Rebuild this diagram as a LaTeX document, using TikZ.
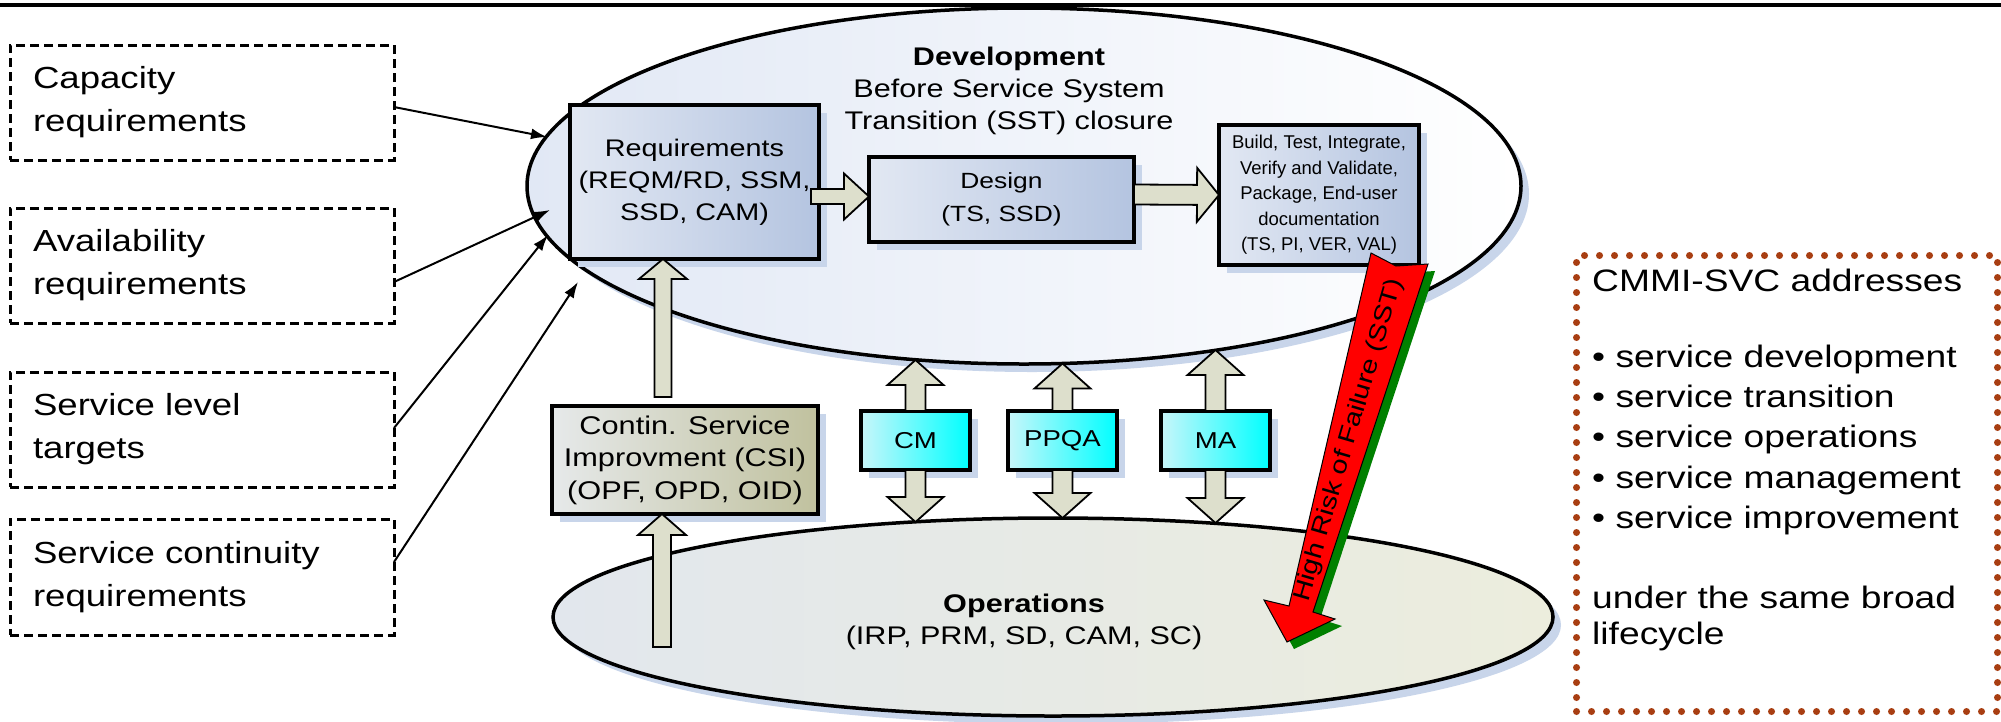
\documentclass[tikz,border=0pt]{standalone}
\usepackage{fontspec}
\setmainfont{Liberation Sans}[FakeStretch=1.2]
\newfontfamily\plainfont{Liberation Sans}
\usetikzlibrary{calc,arrows.meta,shadows,shapes.geometric}

\definecolor{blockfill}{RGB}{221,223,204}
\definecolor{shadowblue}{RGB}{200,213,234}
\definecolor{boxlight}{RGB}{226,232,243}
\definecolor{boxdark}{RGB}{180,196,224}
\definecolor{cyanlight}{RGB}{200,246,250}
\definecolor{cyanfull}{RGB}{0,255,255}
\definecolor{csilight}{RGB}{230,233,234}
\definecolor{csidark}{RGB}{192,193,158}
\definecolor{devleft}{RGB}{225,232,245}
\definecolor{opsleft}{RGB}{226,231,237}
\definecolor{opsright}{RGB}{236,237,221}
\definecolor{dotbrown}{RGB}{168,62,18}
\definecolor{riskred}{RGB}{255,0,0}
\definecolor{riskgreen}{RGB}{0,128,0}

% block arrow: #1 tail, #2 tip, #3 shaft half width, #4 head half width, #5 head length
\newcommand\blockarrow[5]{%
  \path let \p1=(#1), \p2=(#2),
    \n1={atan2((\y2)-(\y1),(\x2)-(\x1))},
    \n2={veclen((\x2)-(\x1),(\y2)-(\y1))} in
    \pgfextra{\xdef\BAang{\n1}\xdef\BAlen{\n2}\xdef\BAx{\x1}\xdef\BAy{\y1}};
  \begin{scope}[shift={(\BAx,\BAy)}, rotate=\BAang, x=1pt, y=1pt]
    \draw[blockarr] (0,#3) -- ({\BAlen-#5},#3) -- ({\BAlen-#5},#4) -- (\BAlen,0)
      -- ({\BAlen-#5},-#4) -- ({\BAlen-#5},-#3) -- (0,-#3) -- cycle;
  \end{scope}}

\tikzset{
  sidebox/.style={rectangle, draw=black, line width=3pt, dash pattern=on 9pt off 5pt,
    anchor=north west, minimum width=384pt, minimum height=115pt,
    inner xsep=23pt, inner ysep=0pt, outer sep=0pt, text width=338pt, align=left,
    font=\fontsize{30.5}{43}\selectfont},
  feed/.style={draw=black, line width=2pt, -{Latex[length=16pt,width=11pt]}},
  bshadow/.style={drop shadow={shadow xshift=8pt, shadow yshift=-8pt, fill=shadowblue, opacity=1}},
  procbox/.style={rectangle, draw=black, line width=3.5pt, anchor=north west, inner sep=0pt,
    outer sep=0pt, left color=boxlight, right color=boxdark, align=center, bshadow},
  supbox/.style={procbox, left color=cyanlight, right color=cyanfull,
    minimum width=109pt, minimum height=59pt, font=\fontsize{23}{28}\selectfont},
  csibox/.style={procbox, left color=csilight, right color=csidark, font=\fontsize{25.6}{32.5}\selectfont},
  phase/.style={ellipse, draw=black, line width=3.5pt, inner sep=0pt, outer sep=0pt, bshadow},
  phasetext/.style={font=\fontsize{25.5}{32}\selectfont, align=center, inner sep=0pt},
  blockarr/.style={draw=black, line width=1.8pt, fill=blockfill, line join=miter},
  cmmitext/.style={anchor=base west, inner sep=0pt, font=\fontsize{31}{31}\selectfont},
  riskshape/.style={fill=riskred, draw=black, line width=1pt, line join=miter},
}

\begin{document}
\begin{tikzpicture}[x=1pt, y=-1pt]
\useasboundingbox (0,0) rectangle (2001,721);
\fill[white] (0,0) rectangle (2001,721);

% phases
\node[phase, minimum width=994pt, minimum height=356pt, left color=devleft, right color=white] (dev) at (1024,186) {};
\node[phase, minimum width=1000pt, minimum height=198pt, left color=opsleft, right color=opsright] (ops) at (1053,617) {};
\node[phasetext] (devtext) at (1009,91) {\textbf{Development}\\Before Service System\\Transition (SST) closure};
\node[phasetext] (opstext) at (1024,622) {\textbf{Operations}\\(IRP, PRM, SD, CAM, SC)};

% process boxes
\node[procbox, minimum width=249pt, minimum height=154pt, font=\fontsize{24}{32}\selectfont] (req) at (570,105) {Requirements\\(REQM/RD, SSM,\\SSD, CAM)};
\node[procbox, minimum width=265pt, minimum height=85pt, font=\fontsize{22}{33}\selectfont] (design) at (869,157) {Design\\(TS, SSD)};
\node[procbox, minimum width=200pt, minimum height=140pt, font=\plainfont\fontsize{18.5}{25.5}\selectfont] (build) at (1219,125) {Build, Test, Integrate,\\Verify and Validate,\\Package, End-user\\documentation\\(TS, PI, VER, VAL)};
\node[csibox, minimum width=266pt, minimum height=108pt] (csi) at (552,406) {Contin. Service\\Improvment (CSI)\\(OPF, OPD, OID)};
\node[supbox] (cm) at (861,411) {CM};
\node[supbox] (ppqa) at (1008,411) {PPQA};
\node[supbox] (ma) at (1161,411) {MA};

% side boxes
\node[sidebox] (cap) at (10,45) {Capacity\\requirements};
\node[sidebox] (avail) at (10,208) {Availability\\requirements};
\node[sidebox] (slt) at (10,372) {Service level\\targets};
\node[sidebox, minimum height=116pt] (cont) at (10,519) {Service continuity\\requirements};

% feed arrows
\coordinate (t1) at (547,137);
\coordinate (t2) at (550,210);
\coordinate (t3) at (548,235);
\coordinate (t4) at (578,282);
\draw[feed] ($(cap.east)+(0,4.5)$) -- (t1);
\draw[feed] ($(avail.east)+(0,16.5)$) -- (t2);
\draw[feed] ($(slt.east)+(0,-1.5)$) -- (t3);
\draw[feed] ($(cont.east)+(0,-15)$) -- (t4);

% block arrows
\blockarrow{$(design.west)+(-58,-3)$}{$(design.west)+(0,-3)$}{7.5}{23}{25}
\blockarrow{$(design.east)+(0,-5)$}{$(build.west)$}{10}{27}{22}
\blockarrow{$(csi.north west)+(111,-9)$}{$(req.south west)+(93,0)$}{8.5}{24}{20}
\blockarrow{$(ops.center)+(-391,30)$}{$(csi.south west)+(110,0)$}{9}{24}{21}
\blockarrow{$(cm.north west)+(54.5,0)$}{$(cm.north west)+(54.5,-51)$}{10}{28}{25}
\blockarrow{$(cm.south west)+(54.5,0)$}{$(cm.south west)+(54.5,52)$}{10}{28}{25}
\blockarrow{$(ppqa.north west)+(54.5,0)$}{$(ppqa.north west)+(54.5,-47.5)$}{10}{28}{25}
\blockarrow{$(ppqa.south west)+(54.5,0)$}{$(ppqa.south west)+(54.5,48)$}{10}{28}{25}
\blockarrow{$(ma.north west)+(54.5,0)$}{$(ma.north west)+(54.5,-61)$}{10}{28}{25}
\blockarrow{$(ma.south west)+(54.5,0)$}{$(ma.south west)+(54.5,53)$}{10}{28}{25}

% high risk arrow
\begin{scope}[shift={(7,7)}]
\fill[riskgreen] (1371,253) -- (1396,266) -- (1428,264) -- (1313,612) -- (1335,619) -- (1287,642) -- (1264,600) -- (1289,606) -- cycle;
\end{scope}
\draw[riskshape] (1371,253) -- (1396,266) -- (1428,264) -- (1313,612) -- (1335,619) -- (1287,642) -- (1264,600) -- (1289,606) -- cycle;
\node[rotate=73.7, font=\fontsize{24}{24}\selectfont, inner sep=0pt] (risk) at (1349,440) {High Risk of Failure (SST)};

% CMMI box
\node[rectangle, draw=dotbrown, line width=7pt, dash pattern=on 0pt off 15pt, line cap=round,
  anchor=north west, minimum width=421pt, minimum height=456pt, inner sep=0pt] (cmmi) at (1573,252) {};
\node[cmmitext] (c1) at (1592,291) {CMMI-SVC addresses};
\node[cmmitext] (c2) at (1592,367) {• service development};
\node[cmmitext] (c3) at (1592,407) {• service transition};
\node[cmmitext] (c4) at (1592,447) {• service operations};
\node[cmmitext] (c5) at (1592,488) {• service management};
\node[cmmitext] (c6) at (1592,528) {• service improvement};
\node[cmmitext] (c7) at (1592,608) {under the same broad};
\node[cmmitext] (c8) at (1592,644) {lifecycle};

% top rule
\draw[line width=4.5pt] (0,5) -- (2001,5);
\end{tikzpicture}
\end{document}
